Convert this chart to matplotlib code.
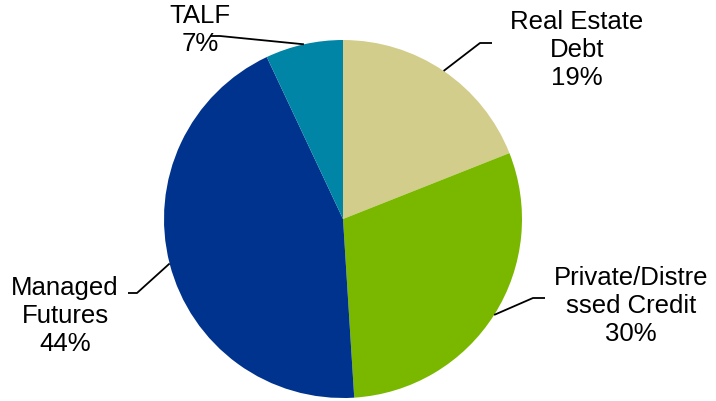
import numpy as np
import matplotlib.pyplot as plt

# === Datos ===
categorias = ["Real Estate\nDebt", "Private/Distre\nssed Credit", "Managed\nFutures", "TALF"]
porcentajes = [19, 30, 44, 7]
colores = ["#D3CD8B", "#7AB800", "#00338D", "#0085A6"]

plt.rcParams["font.family"] = ["Liberation Sans", "DejaVu Sans"]

# === Figura en coordenadas de pixel ===
W, H = 716, 401
fig = plt.figure(figsize=(W / 100, H / 100), dpi=100)
ax = fig.add_axes([0, 0, 1, 1])
ax.set_aspect("equal")

cx, cy, r = 343, H - 219, 179
wedges, _ = ax.pie(porcentajes, colors=colores, startangle=90, counterclock=False,
                   center=(cx, cy), radius=r, frame=True,
                   wedgeprops=dict(linewidth=0))
ax.set_xlim(0, W)
ax.set_ylim(0, H)
ax.axis("off")

# posicion del texto, codo y final de la linea guia (pixeles, y hacia abajo)
etiquetas = [
    dict(txt=(577, 50), codo=(480, 43), fin=(492, 43)),
    dict(txt=(631, 306), codo=(533, 298), fin=(545, 298)),
    dict(txt=(65, 316), codo=(137, 293), fin=(128, 293)),
    dict(txt=(200, 30), codo=(220, 36), fin=(210, 36)),
]

for w, cat, p, e in zip(wedges, categorias, porcentajes, etiquetas):
    ang = np.deg2rad((w.theta1 + w.theta2) / 2)
    x0 = cx + r * np.cos(ang)
    y0 = cy + r * np.sin(ang)
    xs = [x0, e["codo"][0], e["fin"][0]]
    ys = [y0, H - e["codo"][1], H - e["fin"][1]]
    ax.plot(xs, ys, color="black", linewidth=1.3, solid_capstyle="butt")
    ax.text(e["txt"][0], H - e["txt"][1], f"{cat}\n{p}%", ha="center", va="center",
            fontsize=18.5, linespacing=1.2, color="black")

plt.savefig("out.png", dpi=100)
